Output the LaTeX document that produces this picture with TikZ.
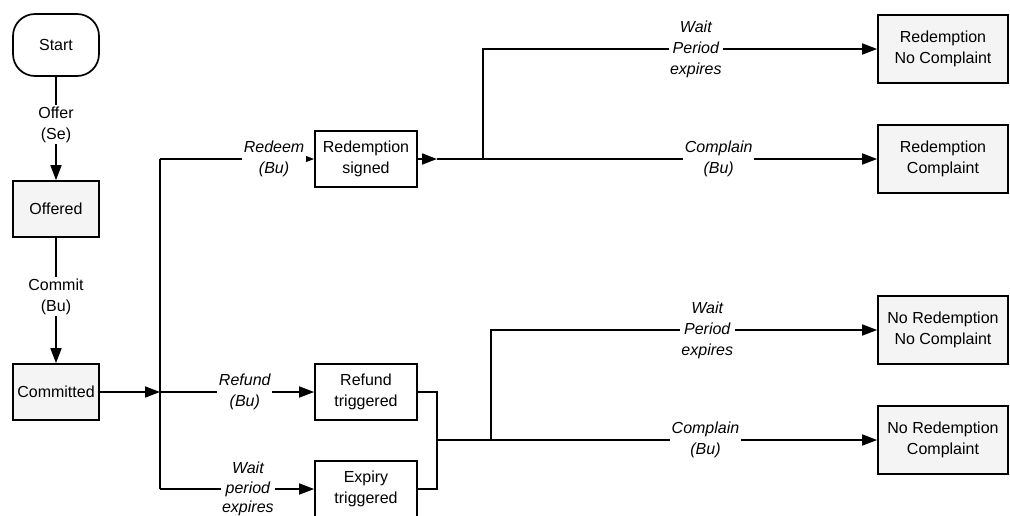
\documentclass[tikz,border=0pt]{standalone}
\usepackage{fontspec}
\setmainfont{Liberation Sans}
\usetikzlibrary{arrows.meta}
\definecolor{statefill}{HTML}{F4F4F4}
\begin{document}
\begin{tikzpicture}[x=1pt,y=-1pt,
  font=\fontsize{16}{21}\selectfont,
  line width=1.7pt,
  state/.style={draw, line width=1.7pt, align=center, inner sep=2pt,
    minimum width=86pt, minimum height=56pt},
  graystate/.style={state, fill=statefill},
  midstate/.style={state, fill=white, minimum width=102pt},
  endstate/.style={state, fill=statefill, minimum width=130pt, minimum height=68pt},
  arr/.style={-{Triangle[length=15pt,width=11pt]}},
  lbl/.style={fill=white, align=center, inner sep=1.5pt, font=\fontsize{16}{21}\selectfont},
  ilbl/.style={lbl, font=\fontsize{16}{21}\selectfont\itshape}]
\useasboundingbox (0,0) rectangle (1010,515);

% states
\node[state, rounded corners=22pt, minimum height=62pt] (start) at (56,45) {Start};
\node[graystate] (offered) at (56,209) {Offered};
\node[graystate] (committed) at (56,392) {Committed};
\node[midstate] (rs) at (366,159) {Redemption\\signed};
\node[midstate] (rt) at (366,392) {Refund\\triggered};
\node[midstate] (et) at (366,489) {Expiry\\triggered};
\node[endstate] (rnc) at (943,49) {Redemption\\No Complaint};
\node[endstate] (rc) at (943,159) {Redemption\\Complaint};
\node[endstate] (nnc) at (943,330) {No Redemption\\No Complaint};
\node[endstate] (nc) at (943,440) {No Redemption\\Complaint};

% junction points
\coordinate (split) at (160,392);
\coordinate (ta) at (160,159);
\coordinate (tb) at (160,489);
\coordinate (rsout) at (437,159);
\coordinate (j1) at (483,159);
\coordinate (m) at (437,440);
\coordinate (j2) at (491,440);

% left column
\draw[arr] (start) -- node[lbl, pos=0.46]{Offer\\(Se)} (offered);
\draw[arr] (offered) -- node[lbl, pos=0.47]{Commit\\(Bu)} (committed);
\draw[arr] (committed) -- (split);

% fan-out bus
\draw (ta) -- (tb);
\draw[arr] (ta) -- node[ilbl, pos=0.74]{Redeem\\(Bu)} (rs);
\draw[arr] (split) -- node[ilbl, pos=0.55]{Refund\\(Bu)} (rt);
\draw[arr] (tb) -- node[ilbl, pos=0.57, font=\fontsize{16}{19.5}\selectfont\itshape]{Wait\\period\\expires} (et);

% redemption outcomes
\draw[arr] (rs) -- (rsout);
\draw[arr] (rsout) -- node[ilbl, pos=0.64]{Complain\\(Bu)} (rc);
\draw[arr] (j1) |- node[ilbl, pos=0.77]{Wait\\Period\\expires} (rnc);

% no-redemption outcomes
\draw (rt.east) -| (m);
\draw (et.east) -| (m);
\draw[arr] (m) -- node[ilbl, pos=0.61]{Complain\\(Bu)} (nc);
\draw[arr] (j2) |- node[ilbl, pos=0.78]{Wait\\Period\\expires} (nnc);
\end{tikzpicture}
\end{document}
